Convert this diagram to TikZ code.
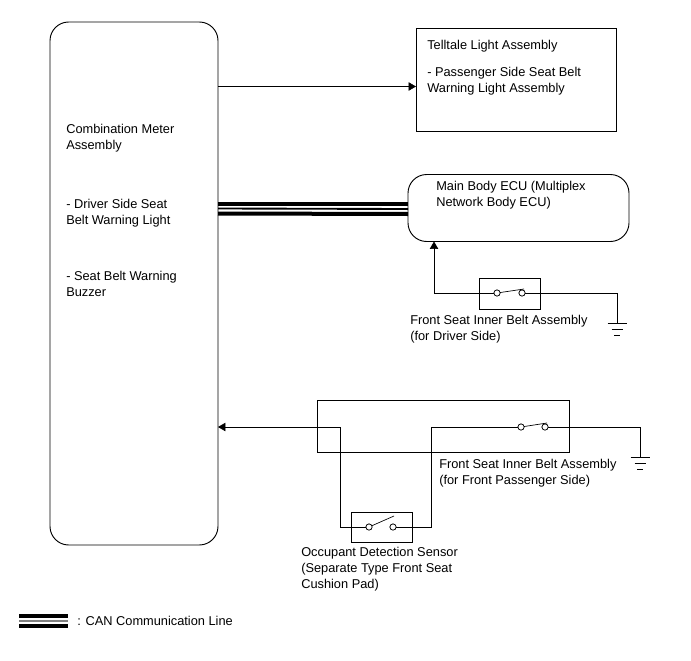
\documentclass[tikz,border=0pt]{standalone}
\usepackage{fontspec}
\setmainfont{Liberation Sans}
\usetikzlibrary{calc}
\usetikzlibrary{arrows}

\tikzset{
  box/.style={draw, inner sep=0pt, outer sep=0pt, line width=0.7pt},
  roundbox/.style={box, rounded corners=14pt},
  label/.style={right, inner sep=0pt, align=left, font=\fontsize{9.6}{12}\selectfont},
  contact/.style={circle, draw, fill=white, inner sep=0pt, outer sep=0pt, minimum size=4.6pt, line width=0.5pt},
  wire/.style={line width=0.5pt},
  canbar/.style={line width=3pt},
  canmid/.style={line width=1.4pt},
  groundbar/.style={line width=0.5pt}
}

\begin{document}
\begin{tikzpicture}[x=0.75pt, y=-0.75pt]
\useasboundingbox (0,0) rectangle (691,660);

\node [roundbox, minimum width=126pt, minimum height=392.25pt] (meter) at (134,283.5) {};
\node [box, minimum width=150pt, minimum height=77.25pt] (telltale) at (516,79.5) {};
\node [roundbox, minimum width=165.75pt, minimum height=50.25pt] (ecu) at (518.5,208) {};
\node [box, minimum width=45.75pt, minimum height=23.25pt] (driverbox) at (509.5,293.5) {};
\node [box, minimum width=189pt, minimum height=39pt] (passbox) at (443,426) {};
\node [box, minimum width=45.75pt, minimum height=22.5pt] (sensorbox) at (381.5,527) {};

\node [label] (meterlabel) at (66,138) {Combination Meter\\Assembly};
\node [label] (lightlabel) at (66,213) {- Driver Side Seat\\Belt Warning Light};
\node [label] (buzzerlabel) at (66,284) {- Seat Belt Warning\\Buzzer};
\node [label] (telltalelabel) at (427,46) {Telltale Light Assembly};
\node [label] (passlightlabel) at (427,81) {- Passenger Side Seat Belt\\Warning Light Assembly};
\node [label] (eculabel) at (436,195) {Main Body ECU (Multiplex\\Network Body ECU)};
\node [label] (driverlabel) at (410,329) {Front Seat Inner Belt Assembly\\(for Driver Side)};
\node [label] (passlabel) at (439,473) {Front Seat Inner Belt Assembly\\(for Front Passenger Side)};
\node [label] (sensorlabel) at (301,569.5) {Occupant Detection Sensor\\(Separate Type Front Seat\\Cushion Pad)};
\node [label] (canlabel) at (77,621) {: CAN Communication Line};

% switches
\node [contact] (d1) at (497,293) {};
\node [contact] (d2) at (522,293) {};
\node [contact] (p1) at (521,427) {};
\node [contact] (p2) at (545,427) {};
\node [contact] (s1) at (369,527) {};
\node [contact] (s2) at (393,527) {};

\coordinate (dturn) at (434,293);
\coordinate (dground) at (617,323);
\coordinate (pground) at (640,457);
\coordinate (pjoin) at (340,427);
\coordinate (sturn) at (431,427);
\coordinate (canA) at (19,0);
\coordinate (canB) at (68,0);

% telltale line
\draw [wire, ->, >=triangle 60] (meter.east |- telltale.west) ++(0,7) coordinate (tstart) -- (telltale.west |- tstart);

% CAN
\draw [canbar] ($(meter.east)+(0,-79.5)$) -- ($(ecu.west)+(0,-4)$);
\draw [canmid] ($(meter.east)+(0,-75)$) -- ($(ecu.west)+(0,1)$);
\draw [canbar] ($(meter.east)+(0,-70)$) -- ($(ecu.west)+(0,6)$);

% driver side
\draw [wire, ->, >=triangle 60] (d1) -- (dturn) -- (dturn |- ecu.south);
\draw [wire] (d2) -- (dground |- d2) -- (dground);
\draw [wire] (d1) -- ($(d2)+(2,-4)$);

% passenger side
\draw [wire, ->, >=triangle 60] (s1) -- (pjoin |- s1) -- (pjoin) -- (meter.east |- pjoin);
\draw [wire] (s2) -- (sturn |- s2) -- (sturn) -- (p1);
\draw [wire] (p2) -- (pground |- p2) -- (pground);
\draw [wire] (p1) -- ($(p2)+(2,-4)$);
\draw [wire] (s1) -- ($(s2)+(1,-11)$);

\node [contact] at (d1) {}; \node [contact] at (d2) {};
\node [contact] at (p1) {}; \node [contact] at (p2) {};
\node [contact] at (s1) {}; \node [contact] at (s2) {};

% ground marks
\foreach \g in {dground, pground} {
  \draw [groundbar] ($(\g)+(-9.5,0)$) -- ($(\g)+(9.5,0)$);
  \draw [groundbar] ($(\g)+(-5.5,6)$) -- ($(\g)+(5.5,6)$);
  \draw [groundbar] ($(\g)+(-3,12)$) -- ($(\g)+(3,12)$);
}

% legend
\draw [canbar] (19,616) -- (68,616);
\draw [canmid, gray] (19,621) -- (68,621);
\draw [canbar] (19,626) -- (68,626);

\end{tikzpicture}
\end{document}
